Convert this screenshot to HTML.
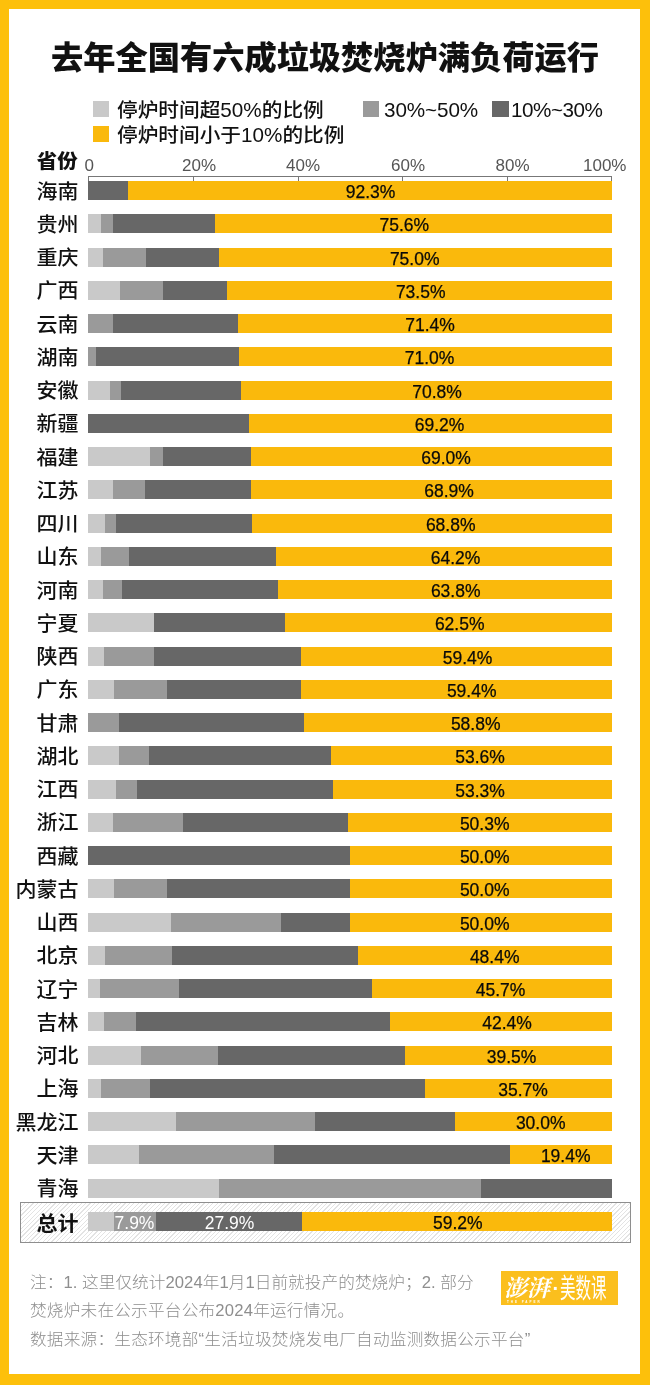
<!DOCTYPE html>
<html lang="zh-CN">
<head>
<meta charset="utf-8">
<title>去年全国有六成垃圾焚烧炉满负荷运行</title>
<style>
html,body{margin:0;padding:0;}
body{width:650px;height:1385px;background:#fdc00b;overflow:hidden;
  font-family:"Liberation Sans","Noto Sans CJK SC",sans-serif;color:#111;}
#page{position:relative;width:650px;height:1385px;overflow:hidden;}
#panel{position:absolute;left:9px;top:9px;width:631px;height:1365px;background:#fff;}
.abs{position:absolute;white-space:nowrap;}
h1{position:absolute;margin:0;left:0;top:35.5px;width:650px;text-align:center;
  font-size:31.6px;line-height:44px;font-weight:900;color:#111;letter-spacing:0;transform:scaleX(1.02);transform-origin:325px 50%;}
.lg{position:absolute;font-size:19.8px;line-height:26px;height:26px;color:#111;white-space:nowrap;font-weight:500;transform:scaleX(1.045);transform-origin:0 50%;}
.sq{position:absolute;width:16.8px;height:16px;}
.ax{position:absolute;font-size:17px;line-height:20px;height:20px;color:#555;white-space:nowrap;}
.tick{position:absolute;width:1px;height:5px;top:176px;background:#777;}
.row{position:absolute;left:0;width:650px;height:19px;}
.nm{position:absolute;left:0;width:78.4px;top:-2.3px;height:27px;line-height:27px;text-align:right;font-size:20px;font-weight:500;color:#111;white-space:nowrap;transform:scaleX(1.05);transform-origin:100% 50%;}
.bar{position:absolute;top:0;height:19px;}
.l{background:#c9c9c9;} .m{background:#9a9a9a;} .d{background:#676767;} .y{background:#fab90c;}
.v{position:absolute;top:0;height:19px;line-height:22.5px;width:80px;margin-left:-40px;text-align:center;font-size:17.5px;color:#0a0a0a;-webkit-text-stroke:0.25px #0a0a0a;white-space:nowrap;}
.w{color:#fff;-webkit-text-stroke:0 #fff;}
.ft{position:absolute;left:30px;font-size:16.1px;line-height:24px;height:24px;color:#8e8e8e;font-weight:300;white-space:nowrap;transform:scaleX(1.034);transform-origin:0 50%;}
</style>
</head>
<body>
<div id="page">
<div id="panel"></div>
<h1>去年全国有六成垃圾焚烧炉满负荷运行</h1>

<div class="sq" style="left:92.6px;top:100.6px;background:#c9c9c9"></div>
<div class="lg" style="left:117px;top:96.8px">停炉时间超50%的比例</div>
<div class="sq" style="left:362.6px;top:100.6px;background:#9a9a9a"></div>
<div class="lg" style="left:384px;top:96.8px;letter-spacing:-0.1px">30%~50%</div>
<div class="sq" style="left:492px;top:100.6px;background:#676767"></div>
<div class="lg" style="left:511px;top:96.8px;letter-spacing:-0.45px">10%~30%</div>
<div class="sq" style="left:92.6px;top:126px;background:#fab90c"></div>
<div class="lg" style="left:117px;top:122.3px">停炉时间小于10%的比例</div>
<div class="abs" style="left:0;width:77.8px;text-align:right;top:147.5px;height:27px;line-height:27px;font-size:19.5px;font-weight:900;transform:scaleX(1.05);transform-origin:100% 50%;">省份</div>
<div class="abs" style="left:88.2px;top:175.5px;width:523.6px;height:1px;background:#777"></div>
<div class="tick" style="left:88.2px"></div>
<div class="ax" style="left:84.5px;top:155.6px">0</div>
<div class="tick" style="left:192.92px"></div>
<div class="ax" style="left:182px;top:155.6px">20%</div>
<div class="tick" style="left:297.64px"></div>
<div class="ax" style="left:286px;top:155.6px">40%</div>
<div class="tick" style="left:402.36px"></div>
<div class="ax" style="left:391px;top:155.6px">60%</div>
<div class="tick" style="left:507.08px"></div>
<div class="ax" style="left:495.5px;top:155.6px">80%</div>
<div class="tick" style="left:610.8px"></div>
<div class="ax" style="left:583px;top:155.6px">100%</div>
<div class="row" style="top:181px"><div class="nm">海南</div><div class="bar y" style="left:88.2px;width:523.6px"></div><div class="bar d" style="left:88.2px;width:39.9px"></div><div class="v" style="left:370.5px">92.3%</div></div>
<div class="row" style="top:214.25px"><div class="nm">贵州</div><div class="bar y" style="left:88.2px;width:523.6px"></div><div class="bar d" style="left:88.2px;width:126.97px"></div><div class="bar m" style="left:88.2px;width:24.61px"></div><div class="bar l" style="left:88.2px;width:12.57px"></div><div class="v" style="left:404.3px">75.6%</div></div>
<div class="row" style="top:247.5px"><div class="nm">重庆</div><div class="bar y" style="left:88.2px;width:523.6px"></div><div class="bar d" style="left:88.2px;width:130.9px"></div><div class="bar m" style="left:88.2px;width:58.12px"></div><div class="bar l" style="left:88.2px;width:14.66px"></div><div class="v" style="left:414.7px">75.0%</div></div>
<div class="row" style="top:280.75px"><div class="nm">广西</div><div class="bar y" style="left:88.2px;width:523.6px"></div><div class="bar d" style="left:88.2px;width:138.75px"></div><div class="bar m" style="left:88.2px;width:74.87px"></div><div class="bar l" style="left:88.2px;width:31.94px"></div><div class="v" style="left:420.7px">73.5%</div></div>
<div class="row" style="top:314px"><div class="nm">云南</div><div class="bar y" style="left:88.2px;width:523.6px"></div><div class="bar d" style="left:88.2px;width:149.75px"></div><div class="bar m" style="left:88.2px;width:25.13px"></div><div class="v" style="left:430px">71.4%</div></div>
<div class="row" style="top:347.25px"><div class="nm">湖南</div><div class="bar y" style="left:88.2px;width:523.6px"></div><div class="bar d" style="left:88.2px;width:150.8px"></div><div class="bar m" style="left:88.2px;width:7.33px"></div><div class="v" style="left:429.5px">71.0%</div></div>
<div class="row" style="top:380.5px"><div class="nm">安徽</div><div class="bar y" style="left:88.2px;width:523.6px"></div><div class="bar d" style="left:88.2px;width:152.89px"></div><div class="bar m" style="left:88.2px;width:32.99px"></div><div class="bar l" style="left:88.2px;width:21.99px"></div><div class="v" style="left:437px">70.8%</div></div>
<div class="row" style="top:413.75px"><div class="nm">新疆</div><div class="bar y" style="left:88.2px;width:523.6px"></div><div class="bar d" style="left:88.2px;width:161.27px"></div><div class="v" style="left:439.5px">69.2%</div></div>
<div class="row" style="top:447px"><div class="nm">福建</div><div class="bar y" style="left:88.2px;width:523.6px"></div><div class="bar d" style="left:88.2px;width:162.32px"></div><div class="bar m" style="left:88.2px;width:74.87px"></div><div class="bar l" style="left:88.2px;width:62.31px"></div><div class="v" style="left:446px">69.0%</div></div>
<div class="row" style="top:480.25px"><div class="nm">江苏</div><div class="bar y" style="left:88.2px;width:523.6px"></div><div class="bar d" style="left:88.2px;width:162.84px"></div><div class="bar m" style="left:88.2px;width:57.07px"></div><div class="bar l" style="left:88.2px;width:24.61px"></div><div class="v" style="left:449px">68.9%</div></div>
<div class="row" style="top:513.5px"><div class="nm">四川</div><div class="bar y" style="left:88.2px;width:523.6px"></div><div class="bar d" style="left:88.2px;width:163.36px"></div><div class="bar m" style="left:88.2px;width:28.27px"></div><div class="bar l" style="left:88.2px;width:16.76px"></div><div class="v" style="left:450.7px">68.8%</div></div>
<div class="row" style="top:546.75px"><div class="nm">山东</div><div class="bar y" style="left:88.2px;width:523.6px"></div><div class="bar d" style="left:88.2px;width:187.45px"></div><div class="bar m" style="left:88.2px;width:40.84px"></div><div class="bar l" style="left:88.2px;width:13.09px"></div><div class="v" style="left:455.5px">64.2%</div></div>
<div class="row" style="top:580px"><div class="nm">河南</div><div class="bar y" style="left:88.2px;width:523.6px"></div><div class="bar d" style="left:88.2px;width:189.54px"></div><div class="bar m" style="left:88.2px;width:33.51px"></div><div class="bar l" style="left:88.2px;width:14.66px"></div><div class="v" style="left:455.7px">63.8%</div></div>
<div class="row" style="top:613.25px"><div class="nm">宁夏</div><div class="bar y" style="left:88.2px;width:523.6px"></div><div class="bar d" style="left:88.2px;width:196.35px"></div><div class="bar l" style="left:88.2px;width:65.45px"></div><div class="v" style="left:459.7px">62.5%</div></div>
<div class="row" style="top:646.5px"><div class="nm">陕西</div><div class="bar y" style="left:88.2px;width:523.6px"></div><div class="bar d" style="left:88.2px;width:212.58px"></div><div class="bar m" style="left:88.2px;width:65.45px"></div><div class="bar l" style="left:88.2px;width:16.23px"></div><div class="v" style="left:467.5px">59.4%</div></div>
<div class="row" style="top:679.75px"><div class="nm">广东</div><div class="bar y" style="left:88.2px;width:523.6px"></div><div class="bar d" style="left:88.2px;width:212.58px"></div><div class="bar m" style="left:88.2px;width:78.54px"></div><div class="bar l" style="left:88.2px;width:25.66px"></div><div class="v" style="left:471.7px">59.4%</div></div>
<div class="row" style="top:713px"><div class="nm">甘肃</div><div class="bar y" style="left:88.2px;width:523.6px"></div><div class="bar d" style="left:88.2px;width:215.72px"></div><div class="bar m" style="left:88.2px;width:30.89px"></div><div class="v" style="left:475.7px">58.8%</div></div>
<div class="row" style="top:746.25px"><div class="nm">湖北</div><div class="bar y" style="left:88.2px;width:523.6px"></div><div class="bar d" style="left:88.2px;width:242.95px"></div><div class="bar m" style="left:88.2px;width:60.74px"></div><div class="bar l" style="left:88.2px;width:30.37px"></div><div class="v" style="left:480px">53.6%</div></div>
<div class="row" style="top:779.5px"><div class="nm">江西</div><div class="bar y" style="left:88.2px;width:523.6px"></div><div class="bar d" style="left:88.2px;width:244.52px"></div><div class="bar m" style="left:88.2px;width:48.69px"></div><div class="bar l" style="left:88.2px;width:27.75px"></div><div class="v" style="left:480px">53.3%</div></div>
<div class="row" style="top:812.75px"><div class="nm">浙江</div><div class="bar y" style="left:88.2px;width:523.6px"></div><div class="bar d" style="left:88.2px;width:260.23px"></div><div class="bar m" style="left:88.2px;width:94.77px"></div><div class="bar l" style="left:88.2px;width:24.61px"></div><div class="v" style="left:484.7px">50.3%</div></div>
<div class="row" style="top:846px"><div class="nm">西藏</div><div class="bar y" style="left:88.2px;width:523.6px"></div><div class="bar d" style="left:88.2px;width:261.8px"></div><div class="v" style="left:484.7px">50.0%</div></div>
<div class="row" style="top:879.25px"><div class="nm">内蒙古</div><div class="bar y" style="left:88.2px;width:523.6px"></div><div class="bar d" style="left:88.2px;width:261.8px"></div><div class="bar m" style="left:88.2px;width:78.54px"></div><div class="bar l" style="left:88.2px;width:26.18px"></div><div class="v" style="left:484.7px">50.0%</div></div>
<div class="row" style="top:912.5px"><div class="nm">山西</div><div class="bar y" style="left:88.2px;width:523.6px"></div><div class="bar d" style="left:88.2px;width:261.8px"></div><div class="bar m" style="left:88.2px;width:192.68px"></div><div class="bar l" style="left:88.2px;width:82.73px"></div><div class="v" style="left:484.7px">50.0%</div></div>
<div class="row" style="top:945.75px"><div class="nm">北京</div><div class="bar y" style="left:88.2px;width:523.6px"></div><div class="bar d" style="left:88.2px;width:270.18px"></div><div class="bar m" style="left:88.2px;width:84.3px"></div><div class="bar l" style="left:88.2px;width:16.76px"></div><div class="v" style="left:494.7px">48.4%</div></div>
<div class="row" style="top:979px"><div class="nm">辽宁</div><div class="bar y" style="left:88.2px;width:523.6px"></div><div class="bar d" style="left:88.2px;width:284.31px"></div><div class="bar m" style="left:88.2px;width:90.58px"></div><div class="bar l" style="left:88.2px;width:12.04px"></div><div class="v" style="left:500.5px">45.7%</div></div>
<div class="row" style="top:1012.25px"><div class="nm">吉林</div><div class="bar y" style="left:88.2px;width:523.6px"></div><div class="bar d" style="left:88.2px;width:301.59px"></div><div class="bar m" style="left:88.2px;width:47.65px"></div><div class="bar l" style="left:88.2px;width:15.71px"></div><div class="v" style="left:507px">42.4%</div></div>
<div class="row" style="top:1045.5px"><div class="nm">河北</div><div class="bar y" style="left:88.2px;width:523.6px"></div><div class="bar d" style="left:88.2px;width:316.78px"></div><div class="bar m" style="left:88.2px;width:129.85px"></div><div class="bar l" style="left:88.2px;width:52.88px"></div><div class="v" style="left:511.5px">39.5%</div></div>
<div class="row" style="top:1078.75px"><div class="nm">上海</div><div class="bar y" style="left:88.2px;width:523.6px"></div><div class="bar d" style="left:88.2px;width:336.67px"></div><div class="bar m" style="left:88.2px;width:62.31px"></div><div class="bar l" style="left:88.2px;width:12.57px"></div><div class="v" style="left:523px">35.7%</div></div>
<div class="row" style="top:1112px"><div class="nm">黑龙江</div><div class="bar y" style="left:88.2px;width:523.6px"></div><div class="bar d" style="left:88.2px;width:366.52px"></div><div class="bar m" style="left:88.2px;width:226.72px"></div><div class="bar l" style="left:88.2px;width:87.44px"></div><div class="v" style="left:540.7px">30.0%</div></div>
<div class="row" style="top:1145.25px"><div class="nm">天津</div><div class="bar y" style="left:88.2px;width:523.6px"></div><div class="bar d" style="left:88.2px;width:422.02px"></div><div class="bar m" style="left:88.2px;width:185.88px"></div><div class="bar l" style="left:88.2px;width:50.79px"></div><div class="v" style="left:565.7px">19.4%</div></div>
<div class="row" style="top:1178.5px"><div class="nm">青海</div><div class="bar d" style="left:88.2px;width:523.6px"></div><div class="bar m" style="left:88.2px;width:392.7px"></div><div class="bar l" style="left:88.2px;width:130.9px"></div></div>
<div class="abs" style="left:20px;top:1202.3px;width:609px;height:38.7px;border:1px solid #8e8e8e;background:repeating-linear-gradient(135deg,#fff 0,#fff 2.2px,#e3e3e3 2.2px,#e3e3e3 3.1px)"></div>
<div class="row" style="top:1211.5px"><div class="nm" style="font-weight:700;top:-1px;left:0.2px">总计</div><div class="bar y" style="left:88.2px;width:523.6px"></div><div class="bar d" style="left:88.2px;width:213.63px"></div><div class="bar m" style="left:88.2px;width:67.54px"></div><div class="bar l" style="left:88.2px;width:26.18px"></div><div class="v w" style="left:134.5px">7.9%</div><div class="v w" style="left:229.5px">27.9%</div><div class="v" style="left:457.8px">59.2%</div></div>
<div class="ft" style="top:1269.6px;letter-spacing:0.05px">注：1. 这里仅统计2024年1月1日前就投产的焚烧炉；2. 部分</div>
<div class="ft" style="top:1298px;letter-spacing:0.2px">焚烧炉未在公示平台公布2024年运行情况。</div>
<div class="ft" style="top:1326.5px;letter-spacing:0.21px">数据来源：生态环境部“生活垃圾焚烧发电厂自动监测数据公示平台”</div>
<div class="abs" style="left:500.5px;top:1271px;width:117px;height:33.5px;background:#fbbf1e;color:#fff;overflow:hidden"><span class="abs" style="left:3.5px;top:3.5px;font-family:'Liberation Serif','Noto Serif CJK SC',serif;font-weight:700;font-style:italic;font-size:23px;line-height:28px;letter-spacing:0px;">澎湃</span><span class="abs" style="left:6.5px;top:29.3px;font-size:3px;line-height:4px;letter-spacing:1.95px;font-weight:700;">THE PAPER</span><span class="abs" style="left:52px;top:3px;font-size:20px;line-height:28px;font-weight:700;">·</span><span class="abs" style="left:59.5px;top:2.2px;font-size:27px;line-height:32px;font-weight:400;transform-origin:0 50%;transform:scaleX(0.575);">美数课</span></div>
</div>
</body>
</html>
